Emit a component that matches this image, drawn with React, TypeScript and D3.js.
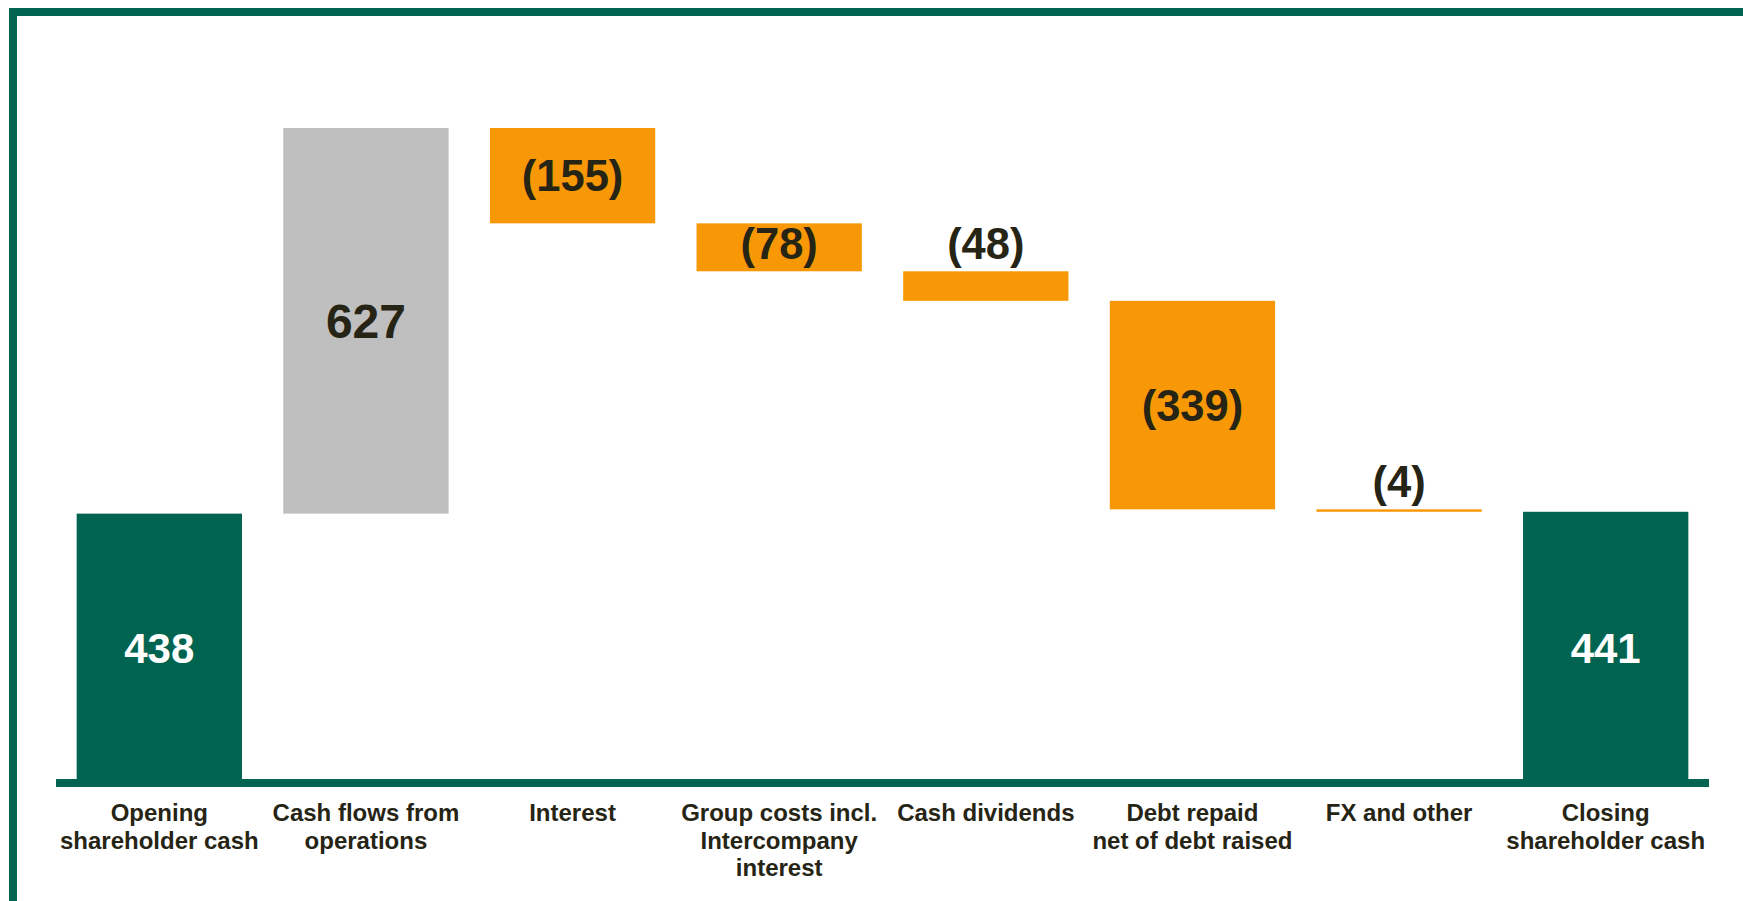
import React from "react";
import * as d3 from "d3";

const categories: string[][] = [
  ["Opening", "shareholder cash"],
  ["Cash flows from", "operations"],
  ["Interest"],
  ["Group costs incl.", "Intercompany", "interest"],
  ["Cash dividends"],
  ["Debt repaid", "net of debt raised"],
  ["FX and other"],
  ["Closing", "shareholder cash"],
];
const values: number[] = [438, 627, -155, -78, -48, -339, -4, 441];
const kinds: string[] = ["total", "increase", "decrease", "decrease", "decrease", "decrease", "decrease", "total"];
const valueLabels: string[] = ["438", "627", "(155)", "(78)", "(48)", "(339)", "(4)", "441"];

const W = 1743;
const H = 901;
const GREEN = "#006450";
const ORANGE = "#F99806";
const GRAY = "#BFBFBF";
const TEXT = "#262414";
const FONT = "'Liberation Sans', Arial, sans-serif";

export default function App() {
  const x = d3
    .scaleBand<number>()
    .domain(d3.range(categories.length))
    .range([56, 1709])
    .paddingInner(0.2)
    .paddingOuter(0.1);
  const y = d3.scaleLinear().domain([0, 1065]).range([783, 128]);

  let running = 0;
  const bars = values.map((v, i) => {
    let y0: number, y1: number;
    if (kinds[i] === "total") {
      y0 = 0;
      y1 = v;
      running = v;
    } else {
      y0 = running;
      y1 = running + v;
      running = y1;
    }
    const lo = Math.min(y0, y1);
    const hi = Math.max(y0, y1);
    return { i, lo, hi, v };
  });

  const fontSizeFor = (i: number) => (kinds[i] === "total" ? 42 : kinds[i] === "increase" ? 48 : 43.5);

  return (
    <svg
      width={W}
      height={H}
      style={{ position: "absolute", left: 0, top: 0, background: "#fff" }}
      fontFamily={FONT}
    >
      {/* frame */}
      <rect x={9} y={8} width={W - 9} height={8} fill={GREEN} />
      <rect x={9} y={8} width={8} height={H - 8} fill={GREEN} />

      {bars.map((b) => {
        const top = y(b.hi);
        const bottom = y(b.lo);
        const kind = kinds[b.i];
        const fill = kind === "total" ? GREEN : kind === "increase" ? GRAY : ORANGE;
        const h = Math.max(bottom - top, 2);
        const fs = fontSizeFor(b.i);
        const cx = (x(b.i) as number) + x.bandwidth() / 2;
        const capH = fs * 0.72;
        const inside = bottom - top > capH + 12;
        const labelY = inside ? (top + bottom) / 2 + capH / 2 - (bottom - top < 80 ? 4 : 0) : top - 12;
        return (
          <g key={b.i}>
            <rect x={x(b.i)} y={top} width={x.bandwidth()} height={h} fill={fill} />
            <text
              x={cx}
              y={labelY}
              textAnchor="middle"
              fontWeight="bold"
              fontSize={fs}
              fill={kind === "total" ? "#fff" : TEXT}
            >
              {valueLabels[b.i]}
            </text>
          </g>
        );
      })}

      {/* axis */}
      <rect x={56} y={779} width={1709 - 56} height={8} fill={GREEN} />

      {categories.map((lines, i) => {
        const cx = (x(i) as number) + x.bandwidth() / 2;
        return (
          <text key={i} textAnchor="middle" fontWeight="bold" fontSize={24} fill={TEXT}>
            {lines.map((l, j) => (
              <tspan key={j} x={cx} y={821 + j * 27.5}>
                {l}
              </tspan>
            ))}
          </text>
        );
      })}
    </svg>
  );
}
